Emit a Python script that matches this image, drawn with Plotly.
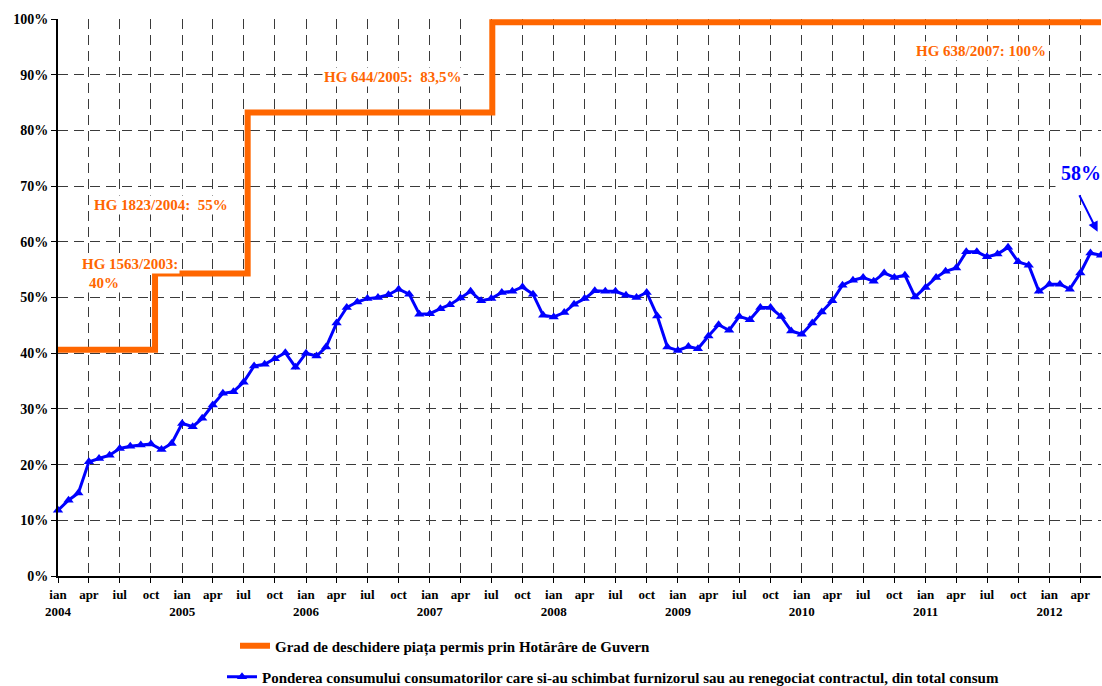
import pandas as pd
import plotly.graph_objects as go

# ----------------------------
# DATE
# ----------------------------
ani = [2004, 2005, 2006, 2007, 2008, 2009, 2010, 2011, 2012]
luni_trimestru = ["ian", "apr", "iul", "oct"]
procente = [0, 10, 20, 30, 40, 50, 60, 70, 80, 90, 100]

# pondere lunara (%), ian 2004 - iun 2012
pondere = [
    11.8, 13.6, 14.9, 20.5, 21.1, 21.7, 22.9, 23.3, 23.5, 23.7, 22.7, 23.8,
    27.4, 26.8, 28.3, 30.7, 32.8, 33.1, 34.8, 37.7, 38.0, 39.0, 40.1, 37.5,
    40.0, 39.5, 41.1, 45.4, 48.2, 49.2, 49.8, 50.0, 50.5, 51.5, 50.6, 47.0,
    47.1, 48.0, 48.7, 49.9, 51.1, 49.4, 49.8, 50.9, 51.1, 51.9, 50.6, 46.8,
    46.5, 47.3, 48.8, 49.8, 51.2, 51.1, 51.1, 50.4, 50.0, 50.9, 46.7, 41.1,
    40.5, 41.2, 40.8, 43.1, 45.1, 44.1, 46.6, 46.0, 48.2, 48.2, 46.6, 44.0,
    43.4, 45.4, 47.4, 49.4, 52.2, 53.1, 53.6, 52.9, 54.4, 53.6, 54.0, 50.1,
    51.8, 53.6, 54.7, 55.3, 58.2, 58.2, 57.3, 57.8, 59.0, 56.4, 55.8, 51.1,
    52.4, 52.4, 51.5, 54.4, 58.0, 57.6,
]

# grad de deschidere a pietei (trepte HG)
hg_data = ["2004-01-01", "2004-10-13", "2005-07-13", "2007-07-04", "2012-06-01"]
hg_grad = [40.6, 54.3, 83.2, 99.4, 99.4]

luni = pd.date_range("2004-01-01", periods=len(pondere), freq="MS")

# ----------------------------
# TICKS
# ----------------------------
tick_vals = []
tick_text = []
for an in ani:
    for i, luna in enumerate(luni_trimestru):
        d = pd.Timestamp(year=an, month=1 + 3 * i, day=1)
        if d > luni[-1]:
            break
        tick_vals.append(d)
        tick_text.append(f"{luna}<br>{an}" if luna == "ian" else luna)

FONT = "Liberation Serif, Times New Roman, serif"
ORANJ = "#FF6600"
ALBASTRU = "#0000FF"

fig = go.Figure()

fig.add_trace(go.Scatter(
    x=hg_data,
    y=hg_grad,
    mode="lines",
    line=dict(color=ORANJ, width=6, shape="hv"),
    name="Grad de deschidere piața permis prin Hotărâre de Guvern",
    legend="legend",
    hoverinfo="skip",
))

fig.add_trace(go.Scatter(
    x=luni,
    y=pondere,
    mode="lines+markers",
    line=dict(color=ALBASTRU, width=3),
    marker=dict(symbol="triangle-up", size=9, color=ALBASTRU),
    name="Ponderea consumului consumatorilor care si-au schimbat furnizorul sau au renegociat contractul, din total consum",
    legend="legend2",
    cliponaxis=False,
))

# ----------------------------
# ANNOTATIONS
# ----------------------------
def eticheta(x, y, text, size=15, color=ORANJ, pad=1):
    fig.add_annotation(
        x=x, y=y, text=text, showarrow=False,
        font=dict(family=FONT, size=size, color=color, weight="bold"),
        bgcolor="white", borderpad=pad,
    )

eticheta("2004-08-01", 56.0, "HG 1563/2003:")
eticheta("2004-05-16", 52.6, "40%")
eticheta("2004-10-30", 66.6, "HG 1823/2004:  55%")
eticheta("2006-09-15", 89.5, "HG 644/2005:  83,5%")
eticheta("2011-06-12", 94.3, "HG 638/2007: 100%")
eticheta("2012-04-04", 72.4, "58%", size=20, color=ALBASTRU, pad=5)

fig.add_annotation(
    x="2012-05-22", y=61.8, ax=-19, ay=-38,
    text="", showarrow=True, arrowhead=2, arrowsize=1,
    arrowwidth=2, arrowcolor=ALBASTRU,
)

# ----------------------------
# LAYOUT
# ----------------------------
legend_font = dict(family=FONT, size=15, weight="bold")

fig.update_layout(
    width=1102,
    height=686,
    margin=dict(l=58, r=1, t=19, b=110, autoexpand=False),
    plot_bgcolor="white",
    paper_bgcolor="white",
    font=dict(family=FONT, color="black"),
    showlegend=True,
    legend=dict(
        x=(235 - 58) / 1043, y=(576 - 646) / 557,
        xanchor="left", yanchor="middle",
        font=legend_font, bgcolor="rgba(0,0,0,0)",
    ),
    legend2=dict(
        x=(222 - 58) / 1043, y=(576 - 677) / 557,
        xanchor="left", yanchor="middle",
        font=legend_font, bgcolor="rgba(0,0,0,0)",
    ),
)

fig.update_xaxes(
    range=[luni[0], luni[-1]],
    tickvals=tick_vals,
    ticktext=tick_text,
    tickfont=dict(family=FONT, size=13, weight="bold"),
    ticks="outside", ticklen=5, tickcolor="black",
    showline=True, linecolor="black", linewidth=2,
    showgrid=True, gridcolor="#3a3a3a", gridwidth=1, griddash="10px,6px",
    zeroline=False,
)

fig.update_yaxes(
    range=[0, 100],
    tickvals=procente,
    ticktext=[f"{p}%" for p in procente],
    tickfont=dict(family=FONT, size=14, weight="bold"),
    ticks="outside", ticklen=5, tickcolor="black",
    showline=True, linecolor="black", linewidth=2,
    showgrid=True, gridcolor="#3a3a3a", gridwidth=1, griddash="10px,6px",
    zeroline=False,
)

fig.write_html(
    "out.html",
    config={"displayModeBar": False},
    post_script="document.body.style.margin = '0px';",
)
